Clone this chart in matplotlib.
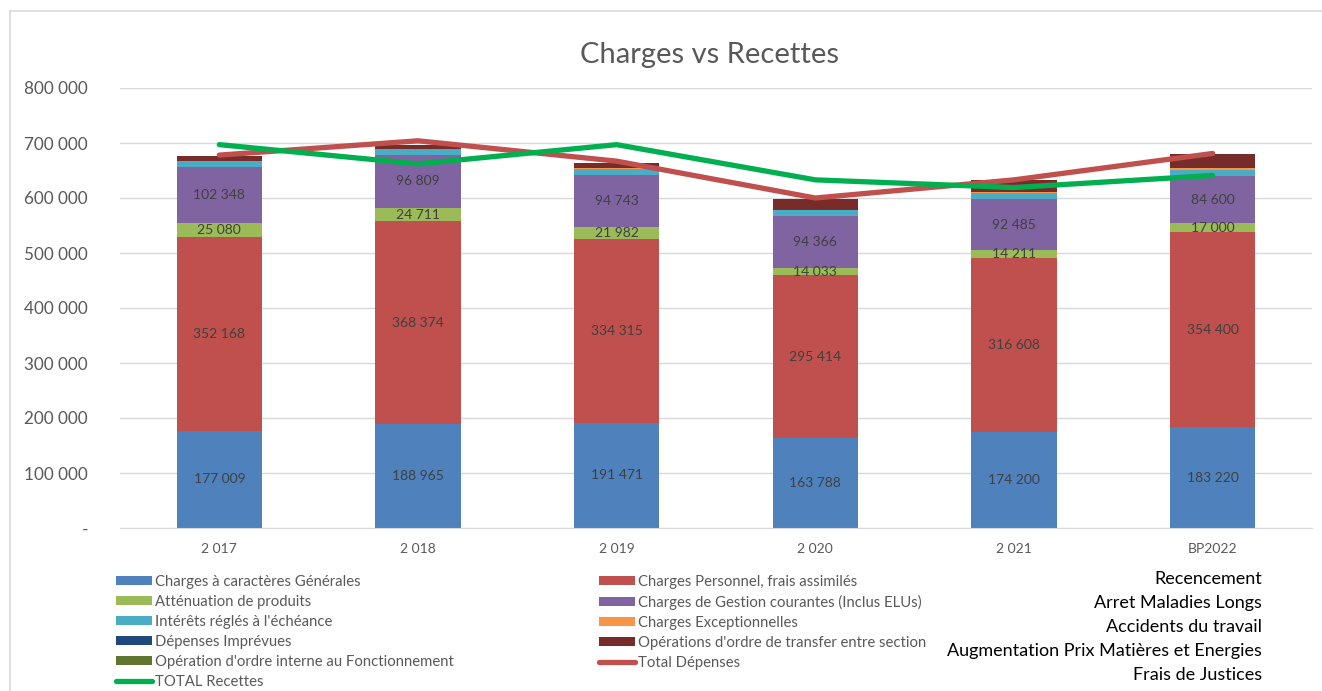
import numpy as np
import matplotlib.pyplot as plt
from matplotlib.patches import Patch
from matplotlib.lines import Line2D

plt.rcParams['font.family'] = ['Lato', 'DejaVu Sans']

# Data
years = ['2 017', '2 018', '2 019', '2 020', '2 021', 'BP2022']
generales = [177009, 188965, 191471, 163788, 174200, 183220]
personnel = [352168, 368374, 334315, 295414, 316608, 354400]
attenuation = [25080, 24711, 21982, 14033, 14211, 17000]
gestion = [102348, 96809, 94743, 94366, 92485, 84600]
interets = [10600, 10400, 9700, 10300, 11500, 12500]
exceptionnelles = [0, 0, 1500, 0, 1000, 3000]
imprevues = [0, 0, 0, 0, 0, 2000]
transfer = [9000, 7000, 10000, 21000, 22000, 23000]
interne = [0, 0, 0, 0, 0, 0]
total_depenses = [678000, 704000, 667000, 600000, 633000, 681000]
total_recettes = [697000, 662000, 697000, 633000, 619000, 641000]

notes = ['Recencement', 'Arret Maladies Longs', 'Accidents du travail',
         'Augmentation Prix Matières et Energies', 'Frais de Justices']

series = [
    ('Charges à caractères Générales', generales, '#4f81bd', True),
    ('Charges Personnel, frais assimilés', personnel, '#c0504d', True),
    ('Atténuation de produits', attenuation, '#9bbb59', True),
    ('Charges de Gestion courantes (Inclus ELUs)', gestion, '#8064a2', True),
    ("Intérêts réglés à l'échéance", interets, '#4bacc6', False),
    ('Charges Exceptionnelles', exceptionnelles, '#f79646', False),
    ('Dépenses Imprévues', imprevues, '#1f497d', False),
    ("Opérations d'ordre de transfer entre section", transfer, '#772c2a', False),
    ("Opération d'ordre interne au Fonctionnement", interne, '#5f7530', False),
]

W, H = 1322, 691
fig = plt.figure(figsize=(W / 100, H / 100), dpi=100)
ax = fig.add_axes([120 / W, 1 - 528 / H, (1312 - 120) / W, (528 - 88) / H])

x = np.arange(len(years))
bottom = np.zeros(len(years))
handles = {}
for name, vals, color, labelled in series:
    vals = np.array(vals, dtype=float)
    bars = ax.bar(x, vals, 0.43, bottom=bottom, color=color, zorder=2)
    if labelled:
        for xi, b, v in zip(x, bottom, vals):
            ax.text(xi, b + v / 2, f'{int(v):,}'.replace(',', ' '), ha='center', va='center',
                    fontsize=10, color='#404040', zorder=5)
    handles[name] = Patch(facecolor=color)
    bottom += vals

ax.plot(x, total_depenses, color='#c0504d', lw=3.8, solid_capstyle='round', solid_joinstyle='round', zorder=3)
ax.plot(x, total_recettes, color='#00b050', lw=3.8, solid_capstyle='round', solid_joinstyle='round', zorder=4)

ax.set_xlim(-0.5, len(years) - 0.5)
ax.set_ylim(0, 800000)
ax.set_yticks(np.arange(0, 800001, 100000))
ax.set_yticklabels(['-' if v == 0 else f'{v:,}'.replace(',', ' ') for v in range(0, 800001, 100000)])
ax.set_xticks(x)
ax.set_xticklabels(years)
ax.tick_params(axis='y', length=0, pad=23, labelsize=12.3, labelcolor='#595959')
ax.tick_params(axis='x', length=0, pad=11, labelsize=10, labelcolor='#595959')
ax.grid(axis='y', color='#d9d9d9', lw=1, zorder=0)
for s in ['left', 'right', 'top']:
    ax.spines[s].set_visible(False)
ax.spines['bottom'].set_color('#d9d9d9')

fig.text(709 / W, 1 - 55 / H, 'Charges vs Recettes', ha='center', va='center', fontsize=21, color='#595959')

# legend, Excel fills rows first so split into two columns by hand
names = [s[0] for s in series]
line_dep = Line2D([], [], color='#c0504d', lw=3.8, solid_capstyle='round')
line_rec = Line2D([], [], color='#00b050', lw=3.8, solid_capstyle='round')
col1 = [(handles[n], n) for n in names[0::2]] + [(line_rec, 'TOTAL Recettes')]
col2 = [(handles[n], n) for n in names[1::2]] + [(line_dep, 'Total Dépenses')]
common = dict(frameon=False, fontsize=10.7, labelcolor='#595959', handlelength=2.4,
              handleheight=0.55, handletextpad=0.2, labelspacing=0.4, borderaxespad=0, borderpad=0)
fig.legend([h for h, _ in col1], [l for _, l in col1], loc='upper left',
           bbox_to_anchor=(116 / W, 1 - 575 / H), **common)
fig.legend([h for h, _ in col2], [l for _, l in col2], loc='upper left',
           bbox_to_anchor=(599 / W, 1 - 575 / H), **common)

for i, t in enumerate(notes):
    fig.text(1262 / W, 1 - (579 + 24 * i) / H, t, ha='right', va='center', fontsize=12.95, color='black')

# chart border
fig.add_artist(Line2D([10 / W, 10 / W], [0, 1 - 11 / H], color='#d9d9d9', lw=1.2))
fig.add_artist(Line2D([10 / W, 1], [1 - 11 / H, 1 - 11 / H], color='#d9d9d9', lw=1.2))

fig.savefig('out.png', dpi=100, facecolor='white')
